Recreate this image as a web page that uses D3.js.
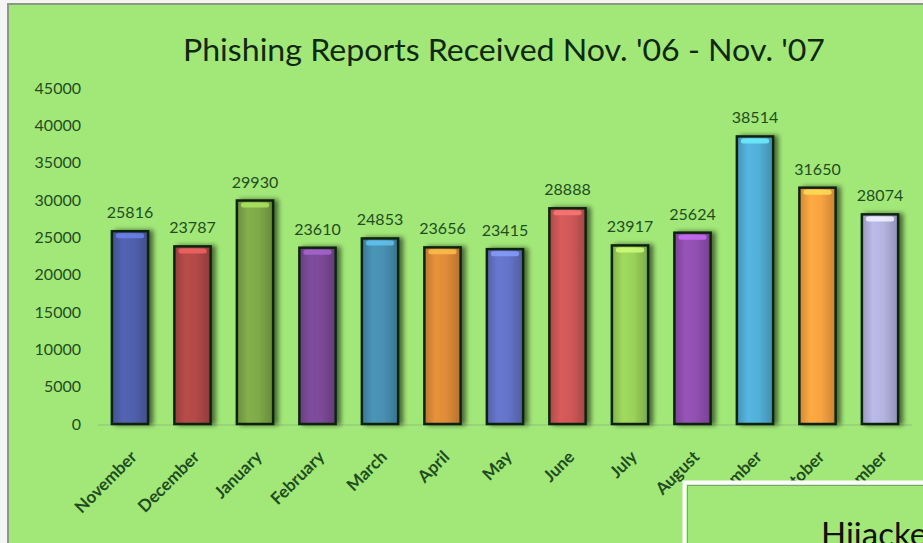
<!DOCTYPE html>
<html>
<head>
<meta charset="utf-8">
<script src="https://cdn.jsdelivr.net/npm/d3@7"></script>
<style>
  html, body { margin: 0; padding: 0; background: #f4f4f4; }
  svg { display: block; }
</style>
</head>
<body>
<div id="chart"></div>
<script>
const months = ['November','December','January','February','March','April','May','June','July','August','September','October','November ']
const reports = [25816, 23787, 29930, 23610, 24853, 23656, 23415, 28888, 23917, 25624, 38514, 31650, 28074]
const barColors = ['#5060ad','#b24a48','#7faa48','#7b4a98','#4890b2','#e08c38','#6474c8','#d05858','#9ad25a','#9250b2','#52b0d8','#f8a440','#b4b4e2']
const yTicks = [0,5000,10000,15000,20000,25000,30000,35000,40000,45000]

const W = 923, H = 543
const font = 'Lato, "Open Sans", sans-serif'
const svg = d3.select('#chart').append('svg').attr('width', W).attr('height', H)
const defs = svg.append('defs')

// panel
svg.append('rect').attr('x', 8).attr('y', 4).attr('width', W).attr('height', H)
  .attr('fill', '#a2e878').attr('stroke', '#8a9a86').attr('stroke-width', 2)

svg.append('text')
  .attr('x', 183).attr('y', 61)
  .attr('font-family', font)
  .attr('font-size', 31)
  .attr('textLength', 642)
  .attr('lengthAdjust', 'spacingAndGlyphs')
  .attr('fill', '#102810')
  .text("Phishing Reports Received Nov. '06 - Nov. '07")

const x = d3.scaleBand().domain(d3.range(months.length)).range([98.75, 911.25]).paddingInner(0.42).paddingOuter(0.21)
const y = d3.scaleLinear().domain([0, 45000]).range([424, 88])

// y axis
const yAxis = svg.append('g').attr('transform', 'translate(83,0)')
  .call(d3.axisLeft(y).tickValues(yTicks).tickSize(0).tickPadding(2).tickFormat(d3.format('d')))
yAxis.select('.domain').remove()
yAxis.selectAll('.tick text')
  .attr('font-family', font)
  .attr('font-size', 16)
  .attr('fill', '#1f4d1f')

// baseline
svg.append('line').attr('x1', 98).attr('x2', 912).attr('y1', y(0) + 1).attr('y2', y(0) + 1)
  .attr('stroke', '#8fbf80').attr('stroke-width', 1)

// gradients per bar
barColors.forEach((c, i) => {
  const g = defs.append('linearGradient').attr('id', 'bg' + i).attr('x1', 0).attr('x2', 1).attr('y1', 0).attr('y2', 0)
  const base = d3.color(c)
  g.append('stop').attr('offset', '0%').attr('stop-color', base.darker(0.5))
  g.append('stop').attr('offset', '30%').attr('stop-color', base.brighter(0.1))
  g.append('stop').attr('offset', '60%').attr('stop-color', base)
  g.append('stop').attr('offset', '100%').attr('stop-color', base.darker(0.6))
})
const shadow = defs.append('filter').attr('id', 'sh').attr('x', '-20%').attr('width', '160%')
shadow.append('feGaussianBlur').attr('in', 'SourceAlpha').attr('stdDeviation', 2.5)
shadow.append('feOffset').attr('dx', 4).attr('dy', 0).attr('result', 'ob')
shadow.append('feComponentTransfer').append('feFuncA').attr('type', 'linear').attr('slope', 0.55)
const mg = shadow.append('feMerge')
mg.append('feMergeNode')
mg.append('feMergeNode').attr('in', 'SourceGraphic')

const bars = svg.append('g').selectAll('g').data(reports).join('g')
bars.append('rect')
  .attr('x', (d, i) => x(i))
  .attr('y', d => y(d))
  .attr('width', x.bandwidth())
  .attr('height', d => y(0) - y(d))
  .attr('fill', (d, i) => `url(#bg${i})`)
  .attr('stroke', '#0f240f')
  .attr('stroke-width', 2.5)
  .attr('filter', 'url(#sh)')
bars.append('rect')
  .attr('x', (d, i) => x(i) + 4)
  .attr('y', d => y(d) + 2)
  .attr('width', x.bandwidth() - 8)
  .attr('height', 5)
  .attr('rx', 2.5)
  .attr('fill', (d, i) => d3.color(barColors[i]).brighter(0.9))
  .attr('opacity', 0.8)

svg.append('g').selectAll('text').data(reports).join('text')
  .attr('x', (d, i) => x(i) + x.bandwidth() / 2)
  .attr('y', d => y(d) - 13)
  .attr('text-anchor', 'middle')
  .attr('font-family', font)
  .attr('font-size', 16)
  .attr('fill', '#1f4d1f')
  .text(d => d)

svg.append('g').selectAll('text').data(months).join('text')
  .attr('transform', (d, i) => `translate(${x(i) + x.bandwidth() / 2 + 8},${y(0) + 34}) rotate(-45)`)
  .attr('text-anchor', 'end')
  .attr('font-family', font)
  .attr('font-weight', 'bold')
  .attr('font-size', 17)
  .attr('fill', '#1f4d1f')
  .text(d => d.trim())

// overlapping next slide panel
svg.append('rect').attr('x', 684.5).attr('y', 482.5).attr('width', 260).attr('height', 80)
  .attr('fill', '#a2e878').attr('stroke', '#ffffff').attr('stroke-width', 4)
svg.append('rect').attr('x', 687.5).attr('y', 485.5).attr('width', 260).attr('height', 80)
  .attr('fill', 'none').attr('stroke', '#8a9a86').attr('stroke-width', 1)
svg.append('text').attr('x', 821).attr('y', 546)
  .attr('font-family', font)
  .attr('font-size', 33)
  .attr('fill', '#111')
  .text('Hijacked')
</script>
</body>
</html>
